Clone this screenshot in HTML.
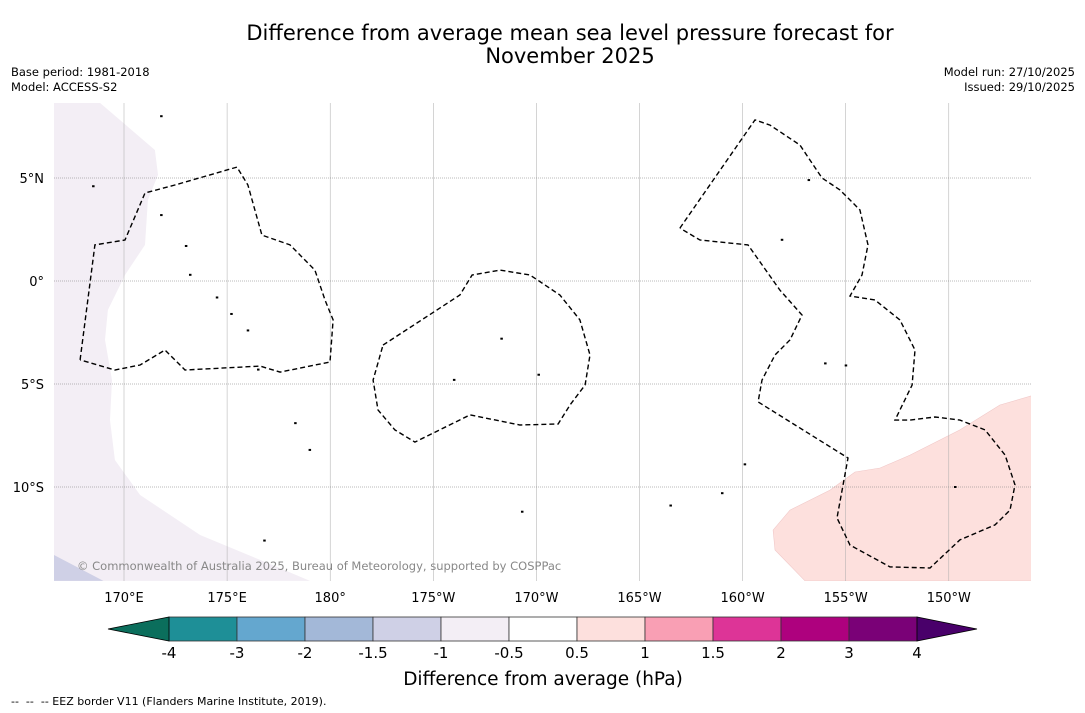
<!DOCTYPE html>
<html><head><meta charset="utf-8"><style>
body{margin:0;width:1085px;height:713px;background:#fff;font-family:"DejaVu Sans","Liberation Sans",sans-serif;overflow:hidden;position:relative}
.t{position:absolute;white-space:pre;color:#000}
</style></head><body>
<div class="t" style="left:0;width:1140px;top:22px;text-align:center;font-size:21px;line-height:23px">Difference from average mean sea level pressure forecast for
November 2025</div>
<div class="t" style="left:11px;top:65px;font-size:11.5px;line-height:15px">Base period: 1981-2018
Model: ACCESS-S2</div>
<div class="t" style="right:10px;top:65px;font-size:11.5px;line-height:15px;text-align:right">Model run: 27/10/2025
Issued: 29/10/2025</div>
<div class="t" style="left:11px;top:695px;font-size:11px">--  --  -- EEZ border V11 (Flanders Marine Institute, 2019).</div>
<svg id="map" width="1085" height="713" style="position:absolute;left:0;top:0"></svg>
<script>
const lonTicks=[170,175,180,185,190,195,200,205,210];
const lonLabels=["170°E","175°E","180°","175°W","170°W","165°W","160°W","155°W","150°W"];
const latTicks=[5,0,-5,-10];
const latLabels=["5°N","0°","5°S","10°S"];
const levels=[-4,-3,-2,-1.5,-1,-0.5,0.5,1,1.5,2,3,4];
const levelColors=["#1e8f97","#64a7cf","#a3b8d8","#cfd0e6","#f3eef5","#ffffff","#fde0dd","#f99fb4","#dd3497","#ae017e","#7a0177"];
const lowColor="#0b6e5c",highColor="#49006a";
const lavenderRegion=[[166.6,8.64],[168.84,8.64],[171.5,6.36],[171.65,5.15],[171.16,3.93],[171.02,1.75],[170.05,0.29],[169.22,-1.41],[169.08,-2.86],[169.42,-4.81],[169.32,-6.75],[169.56,-8.69],[170.78,-10.39],[173.69,-12.33],[176.6,-13.54],[179.02,-14.56],[166.6,-14.56]];
const blueCorner=[[166.6,-13.3],[169.0,-14.56],[166.6,-14.56]];
const pinkRegion=[[214.0,-5.58],[212.48,-6.02],[210.54,-7.23],[208.12,-8.45],[206.67,-9.08],[205.45,-9.27],[204.24,-10.15],[202.3,-11.12],[201.48,-12.09],[201.57,-13.06],[203.03,-14.56],[214.0,-14.56]];
const eezWest=[[167.87,-3.83],[168.59,1.75],[170.05,1.99],[171.02,4.27],[172.47,4.66],[175.48,5.53],[176.01,4.66],[176.69,2.23],[178.05,1.75],[179.26,0.53],[179.75,-0.92],[180.14,-1.89],[179.99,-3.93],[177.57,-4.42],[176.6,-4.13],[172.96,-4.32],[171.99,-3.35],[170.78,-4.08],[169.56,-4.32],[167.87,-3.83]];
const eezMid=[[182.56,-3.11],[186.29,-0.68],[186.88,0.29],[188.24,0.53],[189.69,0.29],[191.14,-0.68],[192.11,-1.89],[192.6,-3.59],[192.36,-5.05],[191.63,-6.02],[191.05,-6.94],[189.2,-6.99],[186.78,-6.5],[184.11,-7.82],[183.14,-7.23],[182.32,-6.26],[182.08,-4.81],[182.56,-3.11]];
const eezEast=[[196.96,2.57],[200.6,7.82],[201.33,7.57],[202.78,6.6],[203.85,5.0],[204.72,4.42],[205.69,3.45],[206.08,1.75],[205.79,0.29],[205.21,-0.73],[206.42,-0.92],[207.63,-1.89],[208.36,-3.35],[208.22,-5.05],[207.39,-6.75],[208.12,-6.75],[209.33,-6.6],[210.54,-6.75],[211.76,-7.23],[212.73,-8.45],[213.21,-9.9],[212.97,-11.12],[212.24,-11.84],[210.54,-12.57],[209.09,-13.93],[207.15,-13.88],[205.21,-12.82],[204.58,-11.5],[205.11,-8.59],[200.75,-5.87],[200.94,-4.81],[201.57,-3.59],[202.3,-2.86],[202.88,-1.65],[201.81,-0.44],[200.26,1.75],[197.93,1.99],[196.96,2.57]];
const islands=[[171.8,3.2],[173.0,1.7],[173.2,0.3],[174.5,-0.8],[175.2,-1.6],[176.0,-2.4],[176.5,-4.3],[178.3,-6.9],[179.0,-8.2],[190.1,-4.55],[188.3,-2.8],[186.0,-4.8],[203.2,4.9],[204.0,-4.0],[201.9,2.0],[200.1,-8.9],[199.0,-10.3],[196.5,-10.9],[189.3,-11.2],[176.8,-12.6],[210.3,-10.0],[205.0,-4.1],[171.8,8.0],[168.5,4.6]];
const svg=document.getElementById('map');const NS='http://www.w3.org/2000/svg';
const X=lon=>124+(lon-170)*20.62, Y=lat=>281-lat*20.6;
const L=54,R=1031,T=103,B=581;
function mk(tag,attrs){const e=document.createElementNS(NS,tag);for(const k in attrs)e.setAttribute(k,attrs[k]);svg.appendChild(e);return e;}
const clip=mk('clipPath',{id:'cp'});const cr=document.createElementNS(NS,'rect');cr.setAttribute('x',L);cr.setAttribute('y',T);cr.setAttribute('width',R-L);cr.setAttribute('height',B-T);clip.appendChild(cr);
const pts=a=>a.map(p=>X(p[0]).toFixed(1)+','+Y(p[1]).toFixed(1)).join(' ');
let e;
e=mk('polygon',{points:pts(lavenderRegion),fill:'#f3eef5','clip-path':'url(#cp)'});


e=mk('polygon',{points:pts(blueCorner),fill:'#cfd0e6','clip-path':'url(#cp)'});


e=mk('polygon',{points:pts(pinkRegion),fill:'#fde0dd',stroke:'#f0c8c8','stroke-width':0.6,'clip-path':'url(#cp)'});


lonTicks.forEach((v,i)=>{
 e=mk('line',{x1:X(v),x2:X(v),y1:T,y2:B,stroke:'#aaa','stroke-width':0.5});
 
 
 e=mk('text',{x:X(v),y:602,'text-anchor':'middle','font-size':13,'font-family':'DejaVu Sans, Liberation Sans, sans-serif'});e.textContent=lonLabels[i];
 
 
});
latTicks.forEach((v,i)=>{
 e=mk('line',{x1:L,x2:R,y1:Y(v),y2:Y(v),stroke:'#777','stroke-width':0.5,'stroke-dasharray':'1,1'});
 
 
 e=mk('text',{x:44,y:Y(v)+5,'text-anchor':'end','font-size':13,'font-family':'DejaVu Sans, Liberation Sans, sans-serif'});e.textContent=latLabels[i];
 
 
});
[eezWest,eezMid,eezEast].forEach((a,i)=>{
 e=mk('polyline',{points:pts(a),fill:'none',stroke:'#000','stroke-width':1.4,'stroke-dasharray':'5,3'});
 
 
});
islands.forEach(p=>{
 e=mk('rect',{x:X(p[0])-1,y:Y(p[1])-1,width:2.5,height:2,fill:'#000'});
 
 
});
e=mk('text',{x:77,y:570,'font-size':11.5,fill:'#888','font-family':'DejaVu Sans, Liberation Sans, sans-serif'});e.textContent='© Commonwealth of Australia 2025, Bureau of Meteorology, supported by COSPPac';


const cbX0=169,cbW=68,cbT=617,cbB=641;
const CX=i=>cbX0+i*cbW;
levelColors.forEach((c,i)=>{
 e=mk('rect',{x:CX(i),y:cbT,width:cbW,height:cbB-cbT,fill:c,stroke:'#333','stroke-width':0.8});
 
 
});
e=mk('polygon',{points:`${CX(0)},${cbT} ${CX(0)},${cbB} 108,629`,fill:lowColor,stroke:'#000','stroke-width':0.8});


const hx=CX(levelColors.length);
e=mk('polygon',{points:`${hx},${cbT} ${hx},${cbB} 977,629`,fill:highColor,stroke:'#000','stroke-width':0.8});


levels.forEach((v,i)=>{
 e=mk('text',{x:CX(i),y:658,'text-anchor':'middle','font-size':15,'font-family':'DejaVu Sans, Liberation Sans, sans-serif'});e.textContent=String(v);
 
 
});
e=mk('text',{x:543,y:685,'text-anchor':'middle','font-size':18.5,'font-family':'DejaVu Sans, Liberation Sans, sans-serif'});e.textContent='Difference from average (hPa)';


</script>
</body></html>
